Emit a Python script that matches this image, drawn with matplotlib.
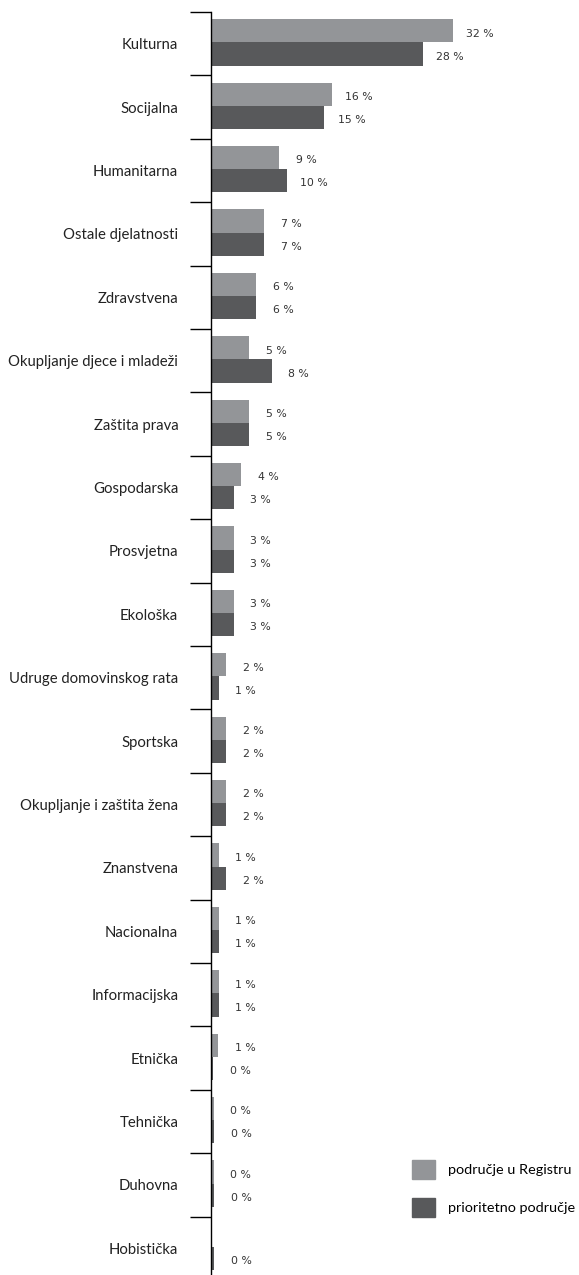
import matplotlib.pyplot as plt
import numpy as np
from matplotlib.patches import Patch

categories = ["Kulturna", "Socijalna", "Humanitarna", "Ostale djelatnosti", "Zdravstvena",
              "Okupljanje djece i mladeži", "Zaštita prava", "Gospodarska", "Prosvjetna",
              "Ekološka", "Udruge domovinskog rata", "Sportska", "Okupljanje i zaštita žena",
              "Znanstvena", "Nacionalna", "Informacijska", "Etnička", "Tehnička", "Duhovna",
              "Hobistička"]
registar = [32, 16, 9, 7, 6, 5, 5, 4, 3, 3, 2, 2, 2, 1, 1, 1, 0.9, 0.35, 0.35, 0]
prioritet = [28, 15, 10, 7, 6, 8, 5, 3, 3, 3, 1, 2, 2, 2, 1, 1, 0.25, 0.4, 0.4, 0.4]
series_names = ["područje u Registru", "prioritetno područje"]

light = "#939598"
dark = "#58595B"

W, H = 579, 1275
fig = plt.figure(figsize=(W / 100, H / 100), dpi=100)
ax = fig.add_axes([211 / W, 0, 363 / W, (H - 12) / H])

y = np.arange(len(categories))
bh = 0.365
ax.barh(y - bh / 2 - 0.02, registar, height=bh, color=light, label=series_names[0])
ax.barh(y + bh / 2 - 0.02, prioritet, height=bh, color=dark, label=series_names[1])

for yy, vals in [(y - bh / 2, registar), (y + bh / 2, prioritet)]:
    for yi, v in zip(yy, vals):
        if v <= 0:
            continue
        ax.annotate(f"{round(v)} %", (v, yi), xytext=(19.5, -1.0), textcoords="offset points",
                    ha="center", va="center", fontsize=7.8, color="#333333",
                    family="DejaVu Sans")

ax.set_xlim(0, 48)
ax.set_ylim(-0.5 + (H - 12) / 63.4, -0.5)

for s in ["top", "right", "bottom"]:
    ax.spines[s].set_visible(False)
ax.spines["left"].set_linewidth(1.0)
ax.set_xticks([])

ax.set_yticks(np.arange(len(categories)) - 0.5)
ax.set_yticklabels([])
ax.tick_params(axis="y", which="major", length=15, width=1.0, direction="out")
ax.set_yticks(y, minor=True)
ax.set_yticklabels(categories, minor=True, family="Lato", fontsize=10.7, color="#222222")
ax.tick_params(axis="y", which="minor", length=0, pad=23.5)

handles = [Patch(color=light, label=series_names[0]), Patch(color=dark, label=series_names[1])]
fig.legend(handles=handles, loc="upper left", bbox_to_anchor=(412 / W, 1 - 1160 / H),
           frameon=False, borderpad=0, borderaxespad=0, handlelength=1.6, handleheight=1.6,
           handletextpad=0.9, labelspacing=1.35, prop={"family": "Lato", "size": 10.4})

fig.savefig("out.png", dpi=100)
